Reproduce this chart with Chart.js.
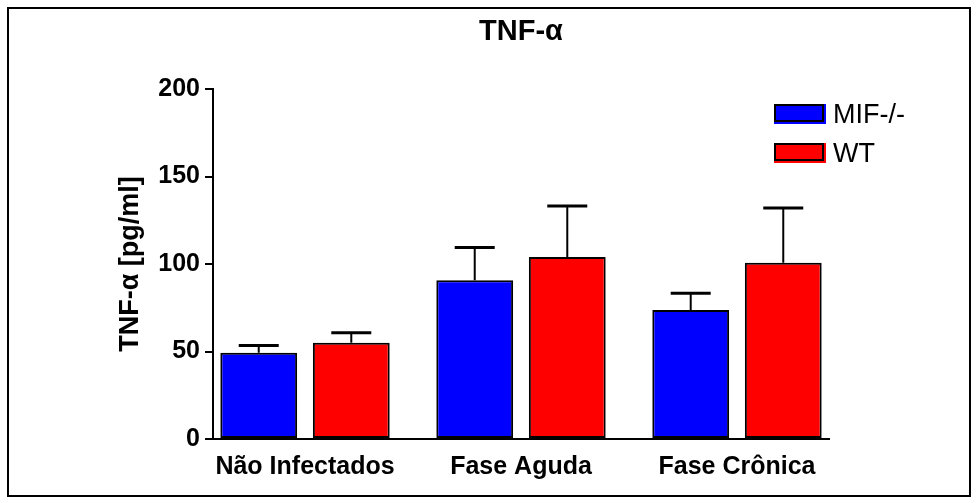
<!DOCTYPE html>
<html>
<head>
<meta charset="utf-8">
<script src="https://cdn.jsdelivr.net/npm/chart.js@4.4.0/dist/chart.umd.min.js"></script>
<style>
  body { margin: 0; background: #fff; }
  #wrap { position: relative; width: 979px; height: 503px; }
  #frame { position: absolute; left: 7px; top: 7px; width: 960px; height: 486px; border: 2px solid #000; pointer-events: none; }
</style>
</head>
<body>
<div id="wrap">
  <canvas id="tnfChart" width="979" height="503"></canvas>
  <div id="frame"></div>
</div>
<script>
// values (mean and SEM, pg/ml)
const groups = ['Não Infectados', 'Fase Aguda', 'Fase Crônica'];
const mifMeans = [49.3, 90.7, 73.7];
const mifSem = [4.2, 18.8, 9.6];
const wtMeans = [55.0, 104.0, 100.7];
const wtSem = [5.7, 29.1, 31.3];
const yTicks = [0, 50, 100, 150, 200];

const fontFamily = "Arial, 'Liberation Sans', sans-serif";

// upward error bars (mean + SEM) on top of each bar
const errorBars = {
  id: 'errorBars',
  afterDatasetsDraw(chart) {
    const c = chart.ctx;
    const yScale = chart.scales.y;
    c.save();
    c.strokeStyle = '#000';
    chart.data.datasets.forEach((ds, di) => {
      const meta = chart.getDatasetMeta(di);
      meta.data.forEach((bar, i) => {
        const top = yScale.getPixelForValue(ds.data[i].y + ds.sem[i]);
        c.lineWidth = 2;
        c.beginPath();
        c.moveTo(bar.x, bar.y);
        c.lineTo(bar.x, top);
        c.stroke();
        c.lineWidth = 3;
        c.beginPath();
        c.moveTo(bar.x - 20, top);
        c.lineTo(bar.x + 20, top);
        c.stroke();
      });
    });
    c.restore();
  }
};

// legend sits inside the plot, top right
const legendBoxes = {
  id: 'legendBoxes',
  afterDraw(chart) {
    const c = chart.ctx;
    const area = chart.chartArea;
    const x = area.right - 55;
    c.save();
    c.font = '27px ' + fontFamily;
    c.textBaseline = 'alphabetic';
    chart.data.datasets.forEach((ds, i) => {
      const y = area.top + 15 + i * 39;
      c.fillStyle = ds.backgroundColor;
      c.fillRect(x, y, 52, 20);
      c.strokeStyle = '#000';
      c.lineWidth = 2;
      c.strokeRect(x + 1, y + 1, 48, 16);
      c.fillStyle = '#000';
      c.fillText(ds.label, x + 59, y + 19);
    });
    c.restore();
  }
};

const ctx = document.getElementById('tnfChart').getContext('2d');

const myChart = new Chart(ctx, {
  type: 'bar',
  data: {
    datasets: [{
      label: 'MIF-/-',
      data: mifMeans.map((v, i) => ({ x: i, y: v })),
      sem: mifSem,
      backgroundColor: '#0000ff',
      borderColor: '#000',
      borderWidth: 2,
      borderSkipped: false
    }, {
      label: 'WT',
      data: wtMeans.map((v, i) => ({ x: i, y: v })),
      sem: wtSem,
      backgroundColor: '#ff0000',
      borderColor: '#000',
      borderWidth: 2,
      borderSkipped: false
    }]
  },
  options: {
    responsive: false,
    animation: false,
    categoryPercentage: 0.857,
    barPercentage: 0.83,
    layout: { padding: { left: 0, right: 150, top: 0, bottom: 0 } },
    plugins: {
      legend: { display: false },
      tooltip: { enabled: false },
      title: {
        display: true,
        text: 'TNF-α',
        fullSize: false,
        color: '#000',
        font: { family: fontFamily, size: 29, weight: 'bold' },
        padding: { top: 15, bottom: 39.2 }
      }
    },
    scales: {
      x: {
        type: 'linear',
        min: -0.426,
        max: 2.426,
        offset: false,
        grid: { display: false, drawTicks: false },
        border: { display: true, color: '#000', width: 2 },
        afterBuildTicks: (s) => { s.ticks = groups.map((g, i) => ({ value: i })); },
        ticks: {
          callback: (v) => groups[v],
          color: '#000',
          autoSkip: false,
          maxRotation: 0,
          minRotation: 0,
          padding: 13,
          font: { family: fontFamily, size: 25, weight: 'bold' }
        },
        afterFit: (s) => { s.height = 64; }
      },
      y: {
        min: 0,
        max: 200,
        afterBuildTicks: (s) => { s.ticks = yTicks.map((v) => ({ value: v })); },
        grid: { drawOnChartArea: false, tickLength: 8, tickColor: '#000', tickWidth: 2, lineWidth: 2 },
        border: { display: true, color: '#000', width: 2 },
        ticks: {
          color: '#000',
          padding: 5,
          font: { family: fontFamily, size: 25, weight: 'bold' }
        },
        title: {
          display: true,
          text: 'TNF-α [pg/ml]',
          color: '#000',
          padding: { top: 114, bottom: 0 },
          font: { family: fontFamily, size: 27, weight: 'bold' }
        },
        afterFit: (s) => { s.width = 213; }
      }
    }
  },
  plugins: [errorBars, legendBoxes]
});
</script>
</body>
</html>
